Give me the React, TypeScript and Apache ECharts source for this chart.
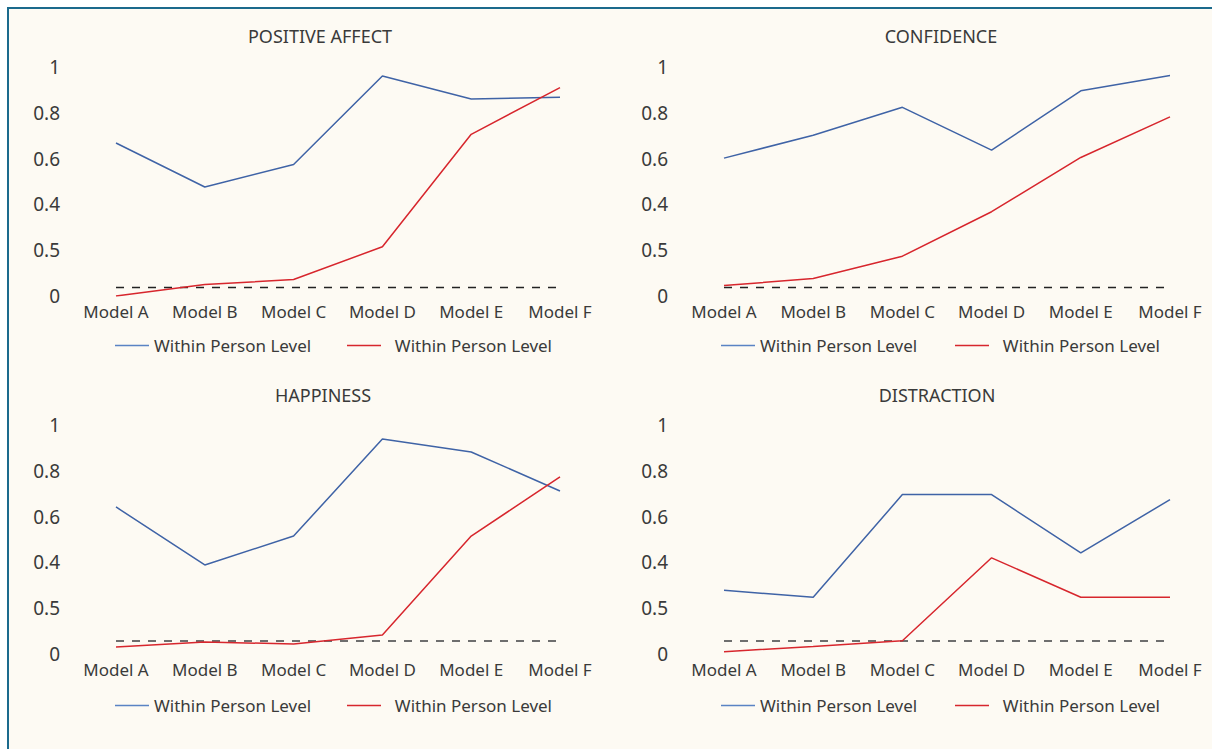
import React, { useEffect, useRef } from "react";
import * as echarts from "echarts";

const categories = ["Model A", "Model B", "Model C", "Model D", "Model E", "Model F"];
const yTickLabels = ["0", "0.5", "0.4", "0.6", "0.8", "1"];
const panelTitles = ["POSITIVE AFFECT", "CONFIDENCE", "HAPPINESS", "DISTRACTION"];
const legendLabels = ["Within Person Level", "Within Person Level"];

const positiveAffectBlue = [0.668, 0.476, 0.574, 0.961, 0.86, 0.868];
const positiveAffectRed = [0.0, 0.05, 0.072, 0.215, 0.706, 0.91];
const confidenceBlue = [0.602, 0.702, 0.824, 0.637, 0.896, 0.963];
const confidenceRed = [0.046, 0.076, 0.174, 0.368, 0.605, 0.782];
const happinessBlue = [0.642, 0.389, 0.515, 0.939, 0.882, 0.712];
const happinessRed = [0.031, 0.052, 0.044, 0.083, 0.515, 0.773];
const distractionBlue = [0.278, 0.248, 0.696, 0.696, 0.442, 0.674];
const distractionRed = [0.01, 0.033, 0.058, 0.42, 0.248, 0.248];
const thresholds = [0.044, 0.044, 0.058, 0.058];

const blueSeries = [positiveAffectBlue, confidenceBlue, happinessBlue, distractionBlue];
const redSeries = [positiveAffectRed, confidenceRed, happinessRed, distractionRed];

const BLUE = "#3f63a6";
const RED = "#d7262d";
const TEXT = "#3a3a3a";
const FONT = "'Noto Sans', sans-serif";

export default function App() {
  const ref = useRef<HTMLDivElement>(null);

  useEffect(() => {
    if (!ref.current) return;
    const chart = echarts.init(ref.current, undefined, { renderer: "svg" });

    const gridBoxes = [
      { left: 116, top: 67, width: 444, height: 229 },
      { left: 724, top: 67, width: 446, height: 229 },
      { left: 116, top: 425, width: 444, height: 229 },
      { left: 724, top: 425, width: 446, height: 229 },
    ];
    const titleCenters = [
      { x: 320, y: 36 },
      { x: 941, y: 36 },
      { x: 323, y: 395 },
      { x: 937, y: 395 },
    ];
    const legendPos = [
      { blue: 110, red: 342, top: 332 },
      { blue: 716, red: 950, top: 332 },
      { blue: 110, red: 342, top: 692 },
      { blue: 716, red: 950, top: 692 },
    ];
    const dashStyles = [
      { color: "#222", width: 1.3 },
      { color: "#222", width: 1.3 },
      { color: "#6e6e6e", width: 2 },
      { color: "#6e6e6e", width: 2 },
    ];

    const grid: any[] = [];
    const xAxis: any[] = [];
    const yAxis: any[] = [];
    const series: any[] = [];
    const legend: any[] = [];
    const graphic: any[] = [];

    for (let i = 0; i < 4; i++) {
      grid.push({ ...gridBoxes[i], containLabel: false });
      xAxis.push({
        type: "category",
        gridIndex: i,
        data: categories,
        boundaryGap: false,
        axisLine: { show: false },
        axisTick: { show: false },
        splitLine: { show: false },
        axisLabel: { color: TEXT, fontSize: 17, fontFamily: FONT, margin: 7, interval: 0 },
      });
      yAxis.push({
        type: "value",
        gridIndex: i,
        min: 0,
        max: 1,
        interval: 0.2,
        axisLine: { show: false },
        axisTick: { show: false },
        splitLine: { show: false },
        axisLabel: {
          color: TEXT,
          fontSize: 19,
          fontFamily: FONT,
          margin: 56,
          align: "right",
          formatter: (v: number) => yTickLabels[Math.round(v / 0.2)] ?? "",
        },
      });
      const blueName = `blue${i}`;
      const redName = `red${i}`;
      series.push({
        name: blueName,
        type: "line",
        xAxisIndex: i,
        yAxisIndex: i,
        data: blueSeries[i],
        symbol: "none",
        lineStyle: { color: BLUE, width: 1.5 },
        itemStyle: { color: BLUE },
        z: 3,
      });
      series.push({
        name: redName,
        type: "line",
        xAxisIndex: i,
        yAxisIndex: i,
        data: redSeries[i],
        symbol: "none",
        lineStyle: { color: RED, width: 1.5 },
        itemStyle: { color: RED },
        z: 4,
        markLine: {
          silent: true,
          symbol: "none",
          label: { show: false },
          lineStyle: { color: dashStyles[i].color, width: dashStyles[i].width, type: [8, 8] },
          data: [{ yAxis: thresholds[i] }],
          z: 2,
        },
      });
      const legendCommon = {
        top: legendPos[i].top,
        icon: "rect",
        itemWidth: 34,
        itemHeight: 1.5,
        selectedMode: false,
        textStyle: { color: TEXT, fontSize: 17, fontFamily: FONT },
      };
      legend.push({
        ...legendCommon,
        data: [blueName],
        left: legendPos[i].blue,
        itemStyle: { color: "#5a83c4" },
        formatter: () => legendLabels[0],
      });
      legend.push({
        ...legendCommon,
        data: [redName],
        left: legendPos[i].red,
        itemStyle: { color: RED },
        formatter: () => "  " + legendLabels[1],
      });
      graphic.push({
        type: "text",
        x: titleCenters[i].x,
        y: titleCenters[i].y,
        style: {
          text: panelTitles[i],
          fill: TEXT,
          font: `18px ${FONT}`,
          textAlign: "center",
          textVerticalAlign: "middle",
        },
      });
    }

    chart.setOption({
      animation: false,
      backgroundColor: "transparent",
      grid,
      xAxis,
      yAxis,
      series,
      legend,
      graphic,
    });

    return () => chart.dispose();
  }, []);

  return (
    <div style={{ position: "absolute", left: 0, top: 0, width: 1212, height: 749, overflow: "hidden", background: "#ffffff" }}>
      <div
        style={{
          position: "absolute",
          left: 7,
          top: 7,
          width: 1205,
          height: 742,
          boxSizing: "border-box",
          borderTop: "2px solid #1b6a8c",
          borderLeft: "2px solid #1b6a8c",
          background: "#fdfaf3",
        }}
      />
      <div ref={ref} style={{ position: "absolute", left: 0, top: 0, width: 1212, height: 749 }} />
    </div>
  );
}
